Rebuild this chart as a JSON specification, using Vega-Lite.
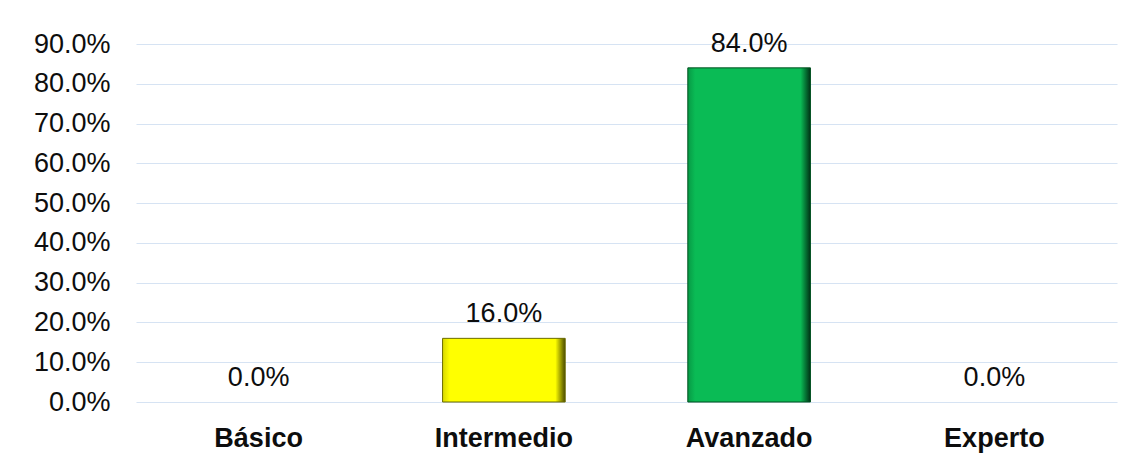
{
  "$schema": "https://vega.github.io/schema/vega-lite/v6.json",
  "width": 981,
  "height": 358,
  "autosize": {"type": "none"},
  "padding": {"left": 136, "top": 44, "right": 15, "bottom": 60},
  "background": "white",
  "config": {
    "view": {"stroke": null},
    "font": "Liberation Sans"
  },
  "data": {
    "values": [
      {"nivel": "Básico", "pct": 0.0},
      {"nivel": "Intermedio", "pct": 0.16},
      {"nivel": "Avanzado", "pct": 0.84},
      {"nivel": "Experto", "pct": 0.0}
    ]
  },
  "encoding": {
    "x": {
      "field": "nivel",
      "type": "nominal",
      "sort": ["Básico", "Intermedio", "Avanzado", "Experto"],
      "scale": {"domain": ["Básico", "Intermedio", "Avanzado", "Experto"], "paddingInner": 0.5, "paddingOuter": 0.25},
      "axis": {
        "title": null,
        "labelAngle": 0,
        "domain": false,
        "ticks": false,
        "tickSize": 0,
        "labelPadding": 23,
        "labelBaseline": "top",
        "labelFontSize": 27,
        "labelFontWeight": "bold",
        "labelColor": "#0d0d0d"
      }
    },
    "y": {
      "field": "pct",
      "type": "quantitative",
      "scale": {"domain": [0, 0.9], "nice": false},
      "axis": {
        "title": null,
        "values": [0, 0.1, 0.2, 0.3, 0.4, 0.5, 0.6, 0.7, 0.8, 0.9],
        "format": ".1%",
        "domain": false,
        "ticks": false,
        "labelPadding": 26,
        "labelFontSize": 27,
        "labelColor": "#0d0d0d",
        "grid": true,
        "gridColor": "#d6e3f3",
        "gridWidth": 1.2
      }
    }
  },
  "layer": [
    {
      "transform": [{"filter": "datum.nivel == 'Intermedio' && datum.pct > 0"}],
      "mark": {
        "type": "bar",
        "stroke": "#6b6b00",
        "strokeWidth": 1,
        "color": {
          "gradient": "linear", "x1": 0, "x2": 1, "y1": 0, "y2": 0,
          "stops": [
            {"offset": 0, "color": "#d8d800"},
            {"offset": 0.06, "color": "#ffff00"},
            {"offset": 0.92, "color": "#ffff00"},
            {"offset": 1, "color": "#4a4a00"}
          ]
        }
      }
    },
    {
      "transform": [{"filter": "datum.nivel == 'Avanzado' && datum.pct > 0"}],
      "mark": {
        "type": "bar",
        "stroke": "#00501f",
        "strokeWidth": 1,
        "color": {
          "gradient": "linear", "x1": 0, "x2": 1, "y1": 0, "y2": 0,
          "stops": [
            {"offset": 0, "color": "#079a45"},
            {"offset": 0.06, "color": "#0abb55"},
            {"offset": 0.92, "color": "#0abb55"},
            {"offset": 1, "color": "#003015"}
          ]
        }
      }
    },
    {
      "mark": {"type": "text", "baseline": "alphabetic", "dy": -16, "fontSize": 27, "color": "#0d0d0d"},
      "encoding": {
        "text": {"field": "pct", "type": "quantitative", "format": ".1%"}
      }
    }
  ]
}
